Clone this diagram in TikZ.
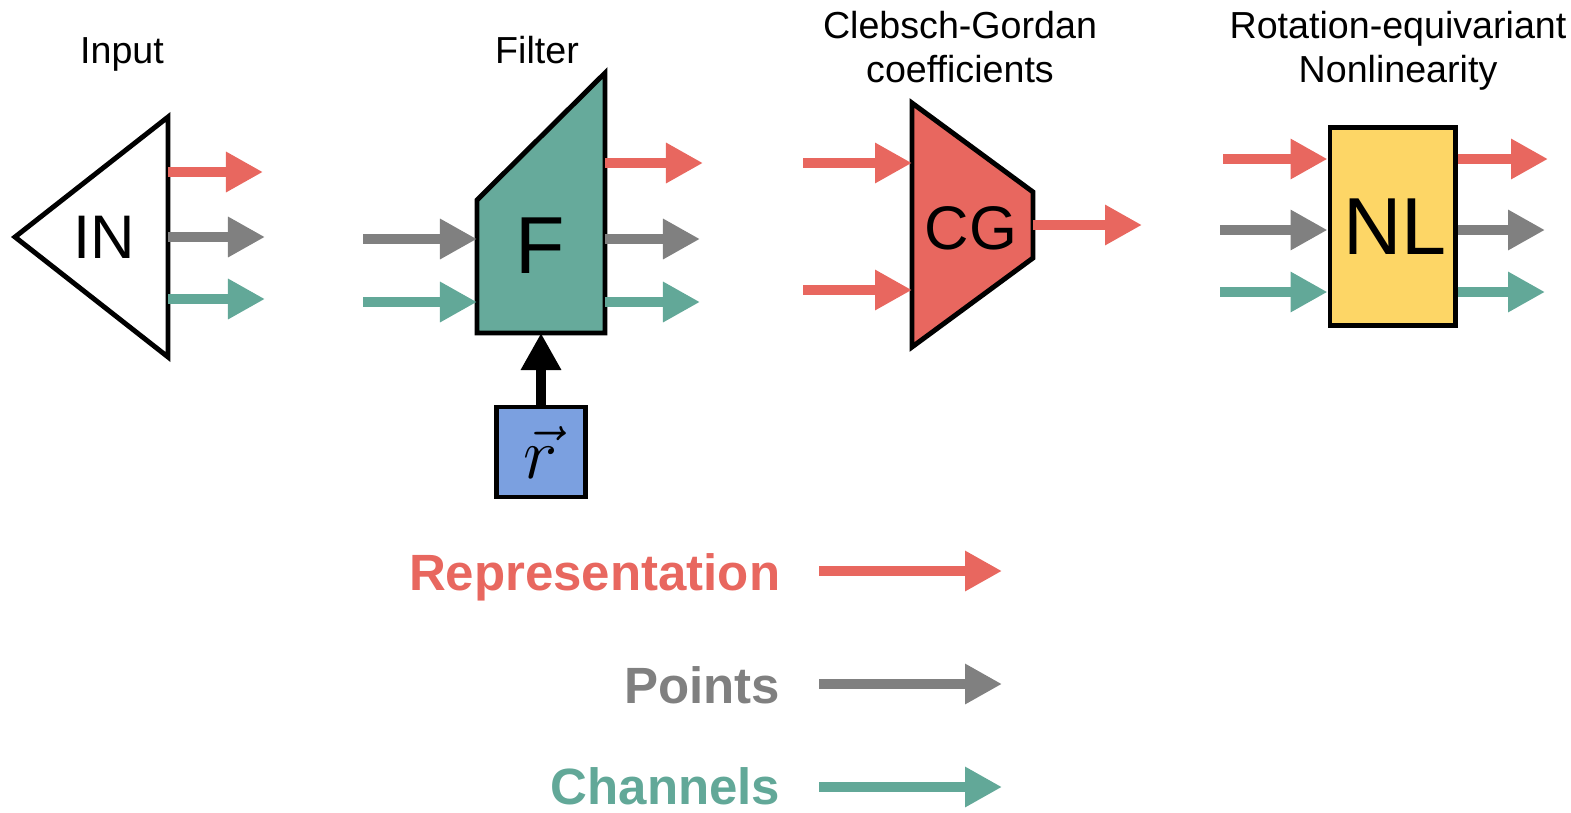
\documentclass[tikz,border=0pt]{standalone}
\usepackage{amsmath}
\usepackage{fontspec}
\setmainfont{Liberation Sans}
\usetikzlibrary{arrows.meta}
\definecolor{repred}{HTML}{E8675F}
\definecolor{ptgray}{HTML}{808080}
\definecolor{chteal}{HTML}{62A898}
\definecolor{filtteal}{HTML}{66AA9B}
\definecolor{nlyellow}{HTML}{FDD666}
\definecolor{rblue}{HTML}{7BA0E0}

\begin{document}
\begin{tikzpicture}[x=0.01cm, y=-0.01cm,
  flow/.style={line width=2.8pt, -{Triangle[length=0.37cm, width=0.38cm]}},
  rep/.style={flow, draw=repred},
  pts/.style={flow, draw=ptgray},
  chn/.style={flow, draw=chteal},
  block/.style={draw=black, line width=1.4pt, line join=miter},
  title/.style={font=\fontsize{10.7}{12.5}\selectfont, align=center, anchor=base},
  big/.style={font=\fontsize{17.5}{20}\selectfont},
  huge/.style={font=\fontsize{23}{27}\selectfont},
  legend/.style={font=\fontsize{14.5}{17}\selectfont\bfseries, anchor=base east, inner sep=0pt}]
  \useasboundingbox (0,0) rectangle (1571,812);

  \coordinate (in1) at (15, 237);
  \coordinate (in2) at (168, 117);
  \coordinate (in3) at (168, 357);
  \draw[block, fill=white] (in1) -- (in2) -- (in3) -- cycle;
  \node[big] (inlab) at (104, 237) {IN};
  \node[title] (input) at (122, 64) {Input};
  \coordinate (inr) at (168, 172);
  \coordinate (ing) at (168, 237);
  \coordinate (int) at (168, 299);
  \coordinate (inre) at (263, 172);
  \coordinate (inge) at (265, 237);
  \coordinate (inte) at (265, 299);
  \draw[rep] (inr) -- (inre);
  \draw[pts] (ing) -- (inge);
  \draw[chn] (int) -- (inte);

  \coordinate (f1) at (477, 333);
  \coordinate (f2) at (477, 200);
  \coordinate (f3) at (605, 73);
  \coordinate (f4) at (605, 333);
  \draw[block, fill=filtteal] (f1) -- (f2) -- (f3) -- (f4) -- cycle;
  \node[huge] (flab) at (540, 246) {F};
  \node[title] (filter) at (537, 64) {Filter};
  \coordinate (fgs) at (363, 239);
  \coordinate (fts) at (363, 302);
  \coordinate (fgi) at (477, 239);
  \coordinate (fti) at (477, 302);
  \coordinate (fro) at (605, 163);
  \coordinate (fgo) at (605, 239);
  \coordinate (fto) at (605, 302);
  \coordinate (fre) at (703, 163);
  \coordinate (fge) at (700, 239);
  \coordinate (fte) at (700, 302);
  \draw[pts] (fgs) -- (fgi);
  \draw[chn] (fts) -- (fti);
  \draw[rep] (fro) -- (fre);
  \draw[pts] (fgo) -- (fge);
  \draw[chn] (fto) -- (fte);
  \node[block, fill=rblue, minimum width=0.89cm, minimum height=0.9cm,
    inner sep=0pt, font=\fontsize{20}{24}\selectfont] (rvec) at (541, 452) {$\vec{r}$};
  \coordinate (fbot) at (541, 333);
  \draw[flow, draw=black] (rvec) -- (fbot);

  \coordinate (cg1) at (912, 103);
  \coordinate (cg2) at (1033, 192);
  \coordinate (cg3) at (1033, 258);
  \coordinate (cg4) at (912, 347);
  \draw[block, fill=repred] (cg1) -- (cg2) -- (cg3) -- (cg4) -- cycle;
  \node[big] (cglab) at (971, 228) {CG};
  \node[title] (cgtitle) at (960, 82) {Clebsch-Gordan\\coefficients};
  \coordinate (cgas) at (803, 163);
  \coordinate (cgbs) at (803, 290);
  \coordinate (cgai) at (912, 163);
  \coordinate (cgbi) at (912, 290);
  \coordinate (cgo) at (1033, 225);
  \coordinate (cge) at (1142, 225);
  \draw[rep] (cgas) -- (cgai);
  \draw[rep] (cgbs) -- (cgbi);
  \draw[rep] (cgo) -- (cge);

  \node[block, fill=nlyellow, minimum width=1.25cm, minimum height=1.97cm,
    inner sep=0pt] (nl) at (1392.5, 226.5) {};
  \node[huge] (nllab) at (1395, 227) {NL};
  \node[title] (nltitle) at (1398, 82) {Rotation-equivariant\\Nonlinearity};
  \coordinate (nlrs) at (1223, 159);
  \coordinate (nlgs) at (1220, 230);
  \coordinate (nlts) at (1220, 292);
  \coordinate (nlre) at (1548, 159);
  \coordinate (nlge) at (1545, 230);
  \coordinate (nlte) at (1545, 292);
  \draw[rep] (nlrs) -- (nlrs -| nl.west);
  \draw[pts] (nlgs) -- (nlgs -| nl.west);
  \draw[chn] (nlts) -- (nlts -| nl.west);
  \draw[rep] (nlre -| nl.east) -- (nlre);
  \draw[pts] (nlge -| nl.east) -- (nlge);
  \draw[chn] (nlte -| nl.east) -- (nlte);

  \node[legend, text=repred] (lrep) at (781, 590) {Representation};
  \node[legend, text=ptgray] (lpts) at (781, 703) {Points};
  \node[legend, text=chteal] (lchn) at (781, 804) {Channels};
  \coordinate (lreps) at (819, 571);
  \coordinate (lrepe) at (1002, 571);
  \coordinate (lptss) at (819, 684);
  \coordinate (lptse) at (1002, 684);
  \coordinate (lchns) at (819, 787);
  \coordinate (lchne) at (1002, 787);
  \draw[rep] (lreps) -- (lrepe);
  \draw[pts] (lptss) -- (lptse);
  \draw[chn] (lchns) -- (lchne);
\end{tikzpicture}
\end{document}
